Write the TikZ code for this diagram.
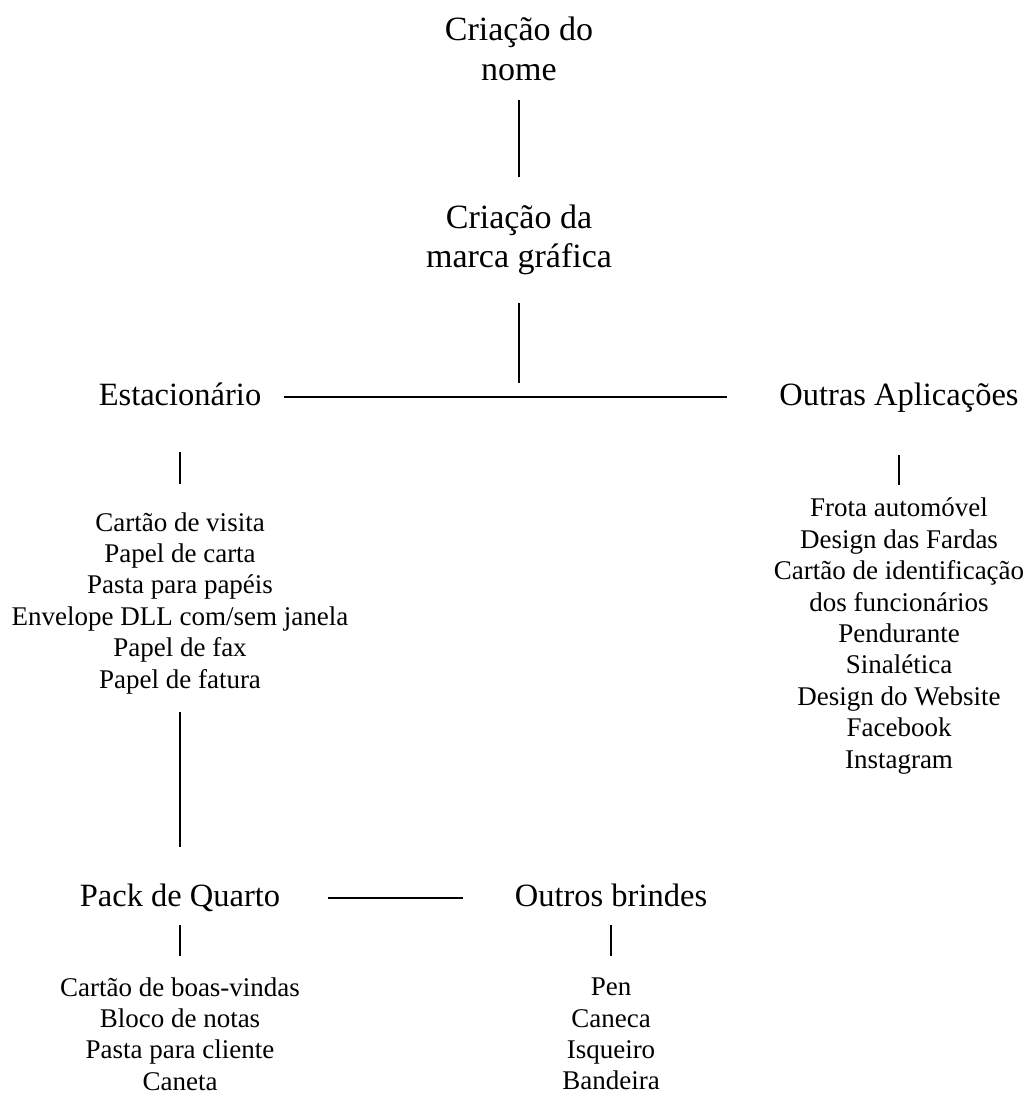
\documentclass[tikz,border=0pt]{standalone}
\usepackage{fontspec}
\setmainfont{Liberation Serif}
\begin{document}
\begin{tikzpicture}[x=1pt,y=-1pt,
  titlebox/.style={font=\fontsize{34}{39.5}\selectfont, align=center, inner sep=0pt},
  headbox/.style={font=\fontsize{32.5}{39}\selectfont, inner sep=0pt, text height=24pt, text depth=8pt},
  itembox/.style={font=\fontsize{27}{31.4}\selectfont, align=center, inner sep=0pt},
  conn/.style={draw=black, line width=2pt}]
\useasboundingbox (0,0) rectangle (1027,1097);
\node[titlebox] (title) at (519,49) {Criação do\\nome};
\node[titlebox] (marca) at (519,240) {Criação da\\marca gráfica};
\coordinate (junc) at (519,383);
\node[headbox] (est) at (180,397) {Estacionário};
\node[headbox] (out) at (899,397) {Outras Aplicações};
\node[itembox] (items1) at (180,603) {Cartão de visita\\Papel de carta\\Pasta para papéis\\Envelope DLL com/sem janela\\Papel de fax\\Papel de fatura};
\node[itembox] (items2) at (899,636) {Frota automóvel\\Design das Fardas\\Cartão de identificação\\dos funcionários\\Pendurante\\Sinalética\\Design do Website\\Facebook\\Instagram};
\node[headbox] (pack) at (180,898) {Pack de Quarto};
\node[headbox] (outros) at (611,898) {Outros brindes};
\node[itembox] (items3) at (180,1034) {Cartão de boas-vindas\\Bloco de notas\\Pasta para cliente\\Caneta};
\node[itembox] (items4) at (611,1034) {Pen\\Caneca\\Isqueiro\\Bandeira};
\draw[conn, shorten <=19.5pt, shorten >=27.5pt] (title.south) -- (marca.north);
\draw[conn, shorten <=28pt] (marca.south) -- (junc);
\draw[conn, shorten <=23pt, shorten >=52.4pt] (est.east) -- (out.west);
\draw[conn, shorten <=39pt, shorten >=28pt] (est.south) -- (items1.north);
\draw[conn, shorten <=42pt, shorten >=13pt] (out.south) -- (items2.north);
\draw[conn, shorten <=17.6pt, shorten >=35pt] (items1.south) -- (pack.north);
\draw[conn, shorten <=47.8pt, shorten >=52pt] (pack.east) -- (outros.west);
\draw[conn, shorten <=11pt, shorten >=21pt] (pack.south) -- (items3.north);
\draw[conn, shorten <=11pt, shorten >=21.6pt] (outros.south) -- (items4.north);
\end{tikzpicture}
\end{document}
